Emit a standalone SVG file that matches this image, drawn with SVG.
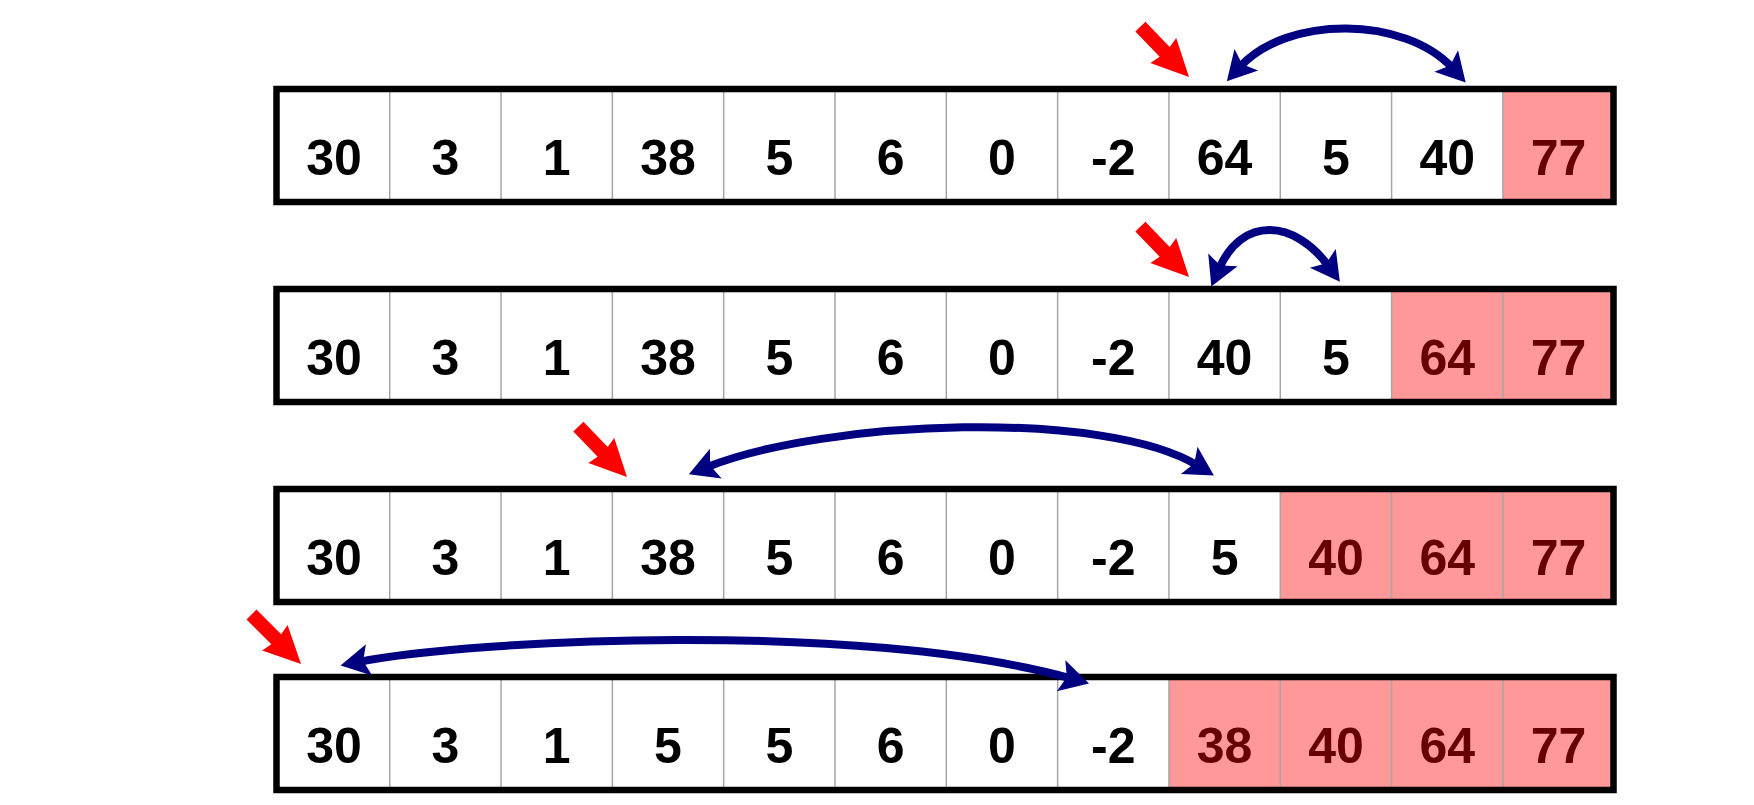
<svg xmlns="http://www.w3.org/2000/svg" xmlns:xlink="http://www.w3.org/1999/xlink" width="1754" height="805" viewBox="0 0 1754 805">
  <style>
    .cell { fill: #FFFFFF; }
    .done { fill: #FF9999; }
    .div { stroke: #A6A6A6; stroke-width: 1.5; }
    .frame { fill: none; stroke: #000000; stroke-width: 6.5; }
    .num { font-family: "Liberation Sans", Arial, sans-serif; font-weight: bold; font-size: 50px; text-anchor: middle; fill: #000000; }
    .num.sorted { fill: #660000; }
    .swap { fill: none; stroke: #000080; stroke-width: 8; marker-start: url(#bh); marker-end: url(#bh); }
    .ptr { fill: #FF0000; }
  </style>
  <defs>
    <marker id="bh" markerUnits="userSpaceOnUse" orient="auto-start-reverse" refX="0" refY="0" markerWidth="60" markerHeight="60" viewBox="-30 -30 60 60" overflow="visible">
      <path d="M19,0 L-10,-16 L-4,0 L-10,16 Z" fill="#000080"/>
    </marker>
    <path id="redArrow" d="M0,0 L-37,-18 L-35,-7 L-70,-7 L-70,7 L-35,7 L-37,18 Z"/>
  </defs>
  <rect x="0" y="0" width="1754" height="805" fill="#FFFFFF"/>

  <g id="row1">
    <rect class="cell" x="276.5" y="89" width="1337" height="113"/>
    <rect class="done" x="1502.92" y="89" width="110.58" height="113"/>
    <g class="div">
      <line x1="389.72" y1="89" x2="389.72" y2="202"/><line x1="501.04" y1="89" x2="501.04" y2="202"/>
      <line x1="612.36" y1="89" x2="612.36" y2="202"/><line x1="723.68" y1="89" x2="723.68" y2="202"/>
      <line x1="835" y1="89" x2="835" y2="202"/><line x1="946.32" y1="89" x2="946.32" y2="202"/>
      <line x1="1057.64" y1="89" x2="1057.64" y2="202"/><line x1="1168.96" y1="89" x2="1168.96" y2="202"/>
      <line x1="1280.28" y1="89" x2="1280.28" y2="202"/><line x1="1391.6" y1="89" x2="1391.6" y2="202"/>
      <line x1="1502.92" y1="89" x2="1502.92" y2="202"/>
    </g>
    <rect class="frame" x="276.5" y="89" width="1337" height="113"/>
    <text class="num" x="334.06" y="175">30</text>
    <text class="num" x="445.38" y="175">3</text>
    <text class="num" x="556.7" y="175">1</text>
    <text class="num" x="668.02" y="175">38</text>
    <text class="num" x="779.34" y="175">5</text>
    <text class="num" x="890.66" y="175">6</text>
    <text class="num" x="1001.98" y="175">0</text>
    <text class="num" x="1113.3" y="175">-2</text>
    <text class="num" x="1224.62" y="175">64</text>
    <text class="num" x="1335.94" y="175">5</text>
    <text class="num" x="1447.26" y="175">40</text>
    <text class="num sorted" x="1558.58" y="175">77</text>
  </g>

  <g id="row2">
    <rect class="cell" x="276.5" y="289" width="1337" height="113"/>
    <rect class="done" x="1391.6" y="289" width="221.9" height="113"/>
    <g class="div">
      <line x1="389.72" y1="289" x2="389.72" y2="402"/><line x1="501.04" y1="289" x2="501.04" y2="402"/>
      <line x1="612.36" y1="289" x2="612.36" y2="402"/><line x1="723.68" y1="289" x2="723.68" y2="402"/>
      <line x1="835" y1="289" x2="835" y2="402"/><line x1="946.32" y1="289" x2="946.32" y2="402"/>
      <line x1="1057.64" y1="289" x2="1057.64" y2="402"/><line x1="1168.96" y1="289" x2="1168.96" y2="402"/>
      <line x1="1280.28" y1="289" x2="1280.28" y2="402"/><line x1="1391.6" y1="289" x2="1391.6" y2="402"/>
      <line x1="1502.92" y1="289" x2="1502.92" y2="402"/>
    </g>
    <rect class="frame" x="276.5" y="289" width="1337" height="113"/>
    <text class="num" x="334.06" y="375">30</text>
    <text class="num" x="445.38" y="375">3</text>
    <text class="num" x="556.7" y="375">1</text>
    <text class="num" x="668.02" y="375">38</text>
    <text class="num" x="779.34" y="375">5</text>
    <text class="num" x="890.66" y="375">6</text>
    <text class="num" x="1001.98" y="375">0</text>
    <text class="num" x="1113.3" y="375">-2</text>
    <text class="num" x="1224.62" y="375">40</text>
    <text class="num" x="1335.94" y="375">5</text>
    <text class="num sorted" x="1447.26" y="375">64</text>
    <text class="num sorted" x="1558.58" y="375">77</text>
  </g>

  <g id="row3">
    <rect class="cell" x="276.5" y="489" width="1337" height="113"/>
    <rect class="done" x="1280.28" y="489" width="333.22" height="113"/>
    <g class="div">
      <line x1="389.72" y1="489" x2="389.72" y2="602"/><line x1="501.04" y1="489" x2="501.04" y2="602"/>
      <line x1="612.36" y1="489" x2="612.36" y2="602"/><line x1="723.68" y1="489" x2="723.68" y2="602"/>
      <line x1="835" y1="489" x2="835" y2="602"/><line x1="946.32" y1="489" x2="946.32" y2="602"/>
      <line x1="1057.64" y1="489" x2="1057.64" y2="602"/><line x1="1168.96" y1="489" x2="1168.96" y2="602"/>
      <line x1="1280.28" y1="489" x2="1280.28" y2="602"/><line x1="1391.6" y1="489" x2="1391.6" y2="602"/>
      <line x1="1502.92" y1="489" x2="1502.92" y2="602"/>
    </g>
    <rect class="frame" x="276.5" y="489" width="1337" height="113"/>
    <text class="num" x="334.06" y="575">30</text>
    <text class="num" x="445.38" y="575">3</text>
    <text class="num" x="556.7" y="575">1</text>
    <text class="num" x="668.02" y="575">38</text>
    <text class="num" x="779.34" y="575">5</text>
    <text class="num" x="890.66" y="575">6</text>
    <text class="num" x="1001.98" y="575">0</text>
    <text class="num" x="1113.3" y="575">-2</text>
    <text class="num" x="1224.62" y="575">5</text>
    <text class="num sorted" x="1335.94" y="575">40</text>
    <text class="num sorted" x="1447.26" y="575">64</text>
    <text class="num sorted" x="1558.58" y="575">77</text>
  </g>

  <g id="row4">
    <rect class="cell" x="276.5" y="677" width="1337" height="113"/>
    <rect class="done" x="1168.96" y="677" width="444.54" height="113"/>
    <g class="div">
      <line x1="389.72" y1="677" x2="389.72" y2="790"/><line x1="501.04" y1="677" x2="501.04" y2="790"/>
      <line x1="612.36" y1="677" x2="612.36" y2="790"/><line x1="723.68" y1="677" x2="723.68" y2="790"/>
      <line x1="835" y1="677" x2="835" y2="790"/><line x1="946.32" y1="677" x2="946.32" y2="790"/>
      <line x1="1057.64" y1="677" x2="1057.64" y2="790"/><line x1="1168.96" y1="677" x2="1168.96" y2="790"/>
      <line x1="1280.28" y1="677" x2="1280.28" y2="790"/><line x1="1391.6" y1="677" x2="1391.6" y2="790"/>
      <line x1="1502.92" y1="677" x2="1502.92" y2="790"/>
    </g>
    <rect class="frame" x="276.5" y="677" width="1337" height="113"/>
    <text class="num" x="334.06" y="763">30</text>
    <text class="num" x="445.38" y="763">3</text>
    <text class="num" x="556.7" y="763">1</text>
    <text class="num" x="668.02" y="763">5</text>
    <text class="num" x="779.34" y="763">5</text>
    <text class="num" x="890.66" y="763">6</text>
    <text class="num" x="1001.98" y="763">0</text>
    <text class="num" x="1113.3" y="763">-2</text>
    <text class="num sorted" x="1224.62" y="763">38</text>
    <text class="num sorted" x="1335.94" y="763">40</text>
    <text class="num sorted" x="1447.26" y="763">64</text>
    <text class="num sorted" x="1558.58" y="763">77</text>
  </g>

  <g id="connectors">
    <g id="pointers" class="ptr">
      <use xlink:href="#redArrow" href="#redArrow" transform="translate(1189,77) rotate(46)"/>
      <use xlink:href="#redArrow" href="#redArrow" transform="translate(1189,277) rotate(46)"/>
      <use xlink:href="#redArrow" href="#redArrow" transform="translate(627,477) rotate(46)"/>
      <use xlink:href="#redArrow" href="#redArrow" transform="translate(301,664) rotate(45)"/>
    </g>
    <g id="swaps">
      <path class="swap" d="M1239.6,67.2 C1287.2,14.7 1405.3,15.9 1452.9,68.4"/>
      <path class="swap" d="M1218.9,269.1 C1242.1,215.7 1294.5,219.4 1328.7,266.4"/>
      <path class="swap" d="M706.5,467.3 C827.4,419.2 1105.9,409.4 1197.7,465.6"/>
      <path class="swap" d="M359.2,661.8 C470,640 860,620 1070.7,678.4"/>
    </g>
  </g>
</svg>
